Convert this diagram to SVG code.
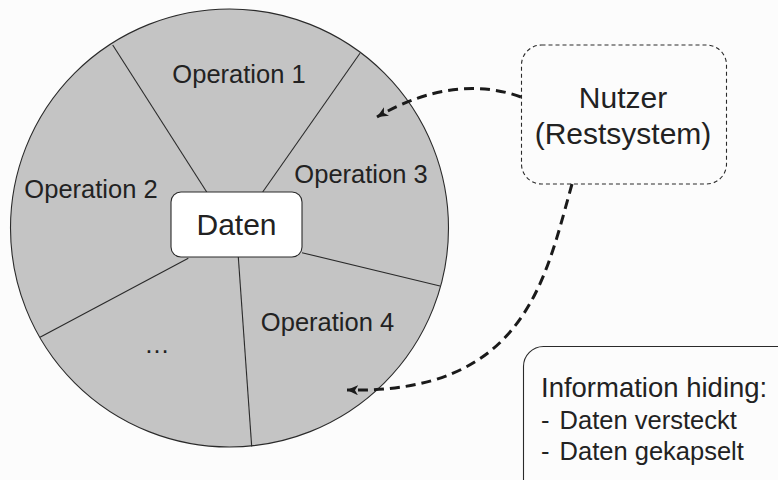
<svg xmlns="http://www.w3.org/2000/svg" width="778" height="480" viewBox="0 0 778 480">
  <style>
    text { font-family: "Liberation Sans", Arial, sans-serif; fill: #222; }
    .op { font-size: 25.5px; text-anchor: middle; }
    .info { font-size: 27.5px; }
    .item { font-size: 25.5px; }
    .div { stroke: #2a2a2a; stroke-width: 1.1; fill: none; }
    .conn { stroke: #1a1a1a; stroke-width: 3; fill: none; stroke-dasharray: 10 6; }
  </style>
  <defs>
    <marker id="arrow" markerUnits="userSpaceOnUse" markerWidth="14" markerHeight="12" refX="11" refY="5" orient="auto">
      <path d="M0,0 L11,5 L0,10 L3,5 Z" fill="#1a1a1a"/>
    </marker>
  </defs>
  <rect x="0" y="0" width="778" height="480" fill="#fcfcfc"/>

  <g id="wheel">
    <circle cx="229.5" cy="228" r="219" fill="#c4c4c4" stroke="#2a2a2a" stroke-width="1.1"/>
    <line class="div" x1="112.7" y1="45" x2="206.7" y2="192"/>
    <line class="div" x1="360" y1="53.3" x2="262.7" y2="192"/>
    <line class="div" x1="302" y1="252.7" x2="440" y2="286"/>
    <line class="div" x1="238.3" y1="257" x2="251.7" y2="446.5"/>
    <line class="div" x1="188.3" y1="258.3" x2="40" y2="337.3"/>
  </g>

  <g id="op1"><text class="op" x="239" y="83">Operation 1</text></g>
  <g id="op2"><text class="op" x="91" y="198">Operation 2</text></g>
  <g id="op3"><text class="op" x="361" y="183">Operation 3</text></g>
  <g id="op4"><text class="op" x="327.5" y="331">Operation 4</text></g>
  <g id="opMore"><text class="op" x="157" y="353">…</text></g>

  <g id="daten">
    <rect x="171" y="192" width="131" height="65" rx="10" fill="#ffffff" stroke="#2a2a2a" stroke-width="1.1"/>
    <text x="236.5" y="235" font-size="30" text-anchor="middle">Daten</text>
  </g>

  <g id="nutzer">
    <rect x="521.5" y="45" width="205" height="139" rx="20" fill="none" stroke="#2a2a2a" stroke-width="1.1" stroke-dasharray="4 3"/>
    <text x="623" y="108" font-size="30" text-anchor="middle">Nutzer</text>
    <text x="623" y="143.5" font-size="30" text-anchor="middle">(Restsystem)</text>
  </g>

  <g id="info">
    <rect x="523.5" y="346.5" width="280" height="160" rx="20" fill="none" stroke="#2a2a2a" stroke-width="1.1"/>
    <text class="info" x="541" y="397">Information hiding:</text>
    <text class="item" x="541" y="429">- <tspan dx="3">Daten versteckt</tspan></text>
    <text class="item" x="541" y="460">- <tspan dx="3">Daten gekapselt</tspan></text>
  </g>

  <g id="connectors">
    <path class="conn" d="M521,97 C480,82 430,86 377,117" marker-end="url(#arrow)"/>
    <path class="conn" d="M572,184 C545,280 525,394 347,390" marker-end="url(#arrow)"/>
  </g>
</svg>
